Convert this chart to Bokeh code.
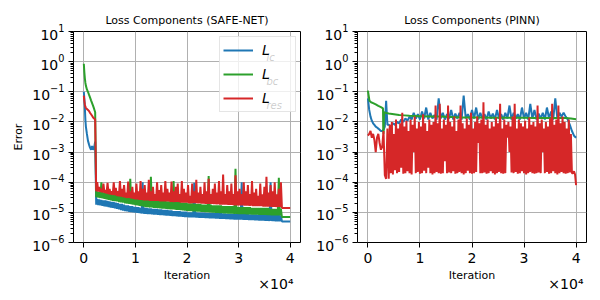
from bokeh.plotting import figure
from bokeh.layouts import row
from bokeh.models import FixedTicker, Legend, LegendItem, Label, Title
from bokeh.embed import file_html
from bokeh.resources import INLINE

# ---------------- data ----------------
titles = ["Loss Components (SAFE-NET)", "Loss Components (PINN)"]
xtick_vals = [0, 10000, 20000, 30000, 40000]
xtick_labels = ["0", "1", "2", "3", "4"]
ytick_vals = [1e-6, 1e-5, 1e-4, 1e-3, 1e-2, 1e-1, 1e0, 1e1]
legend_subs = ["ic", "bc", "res"]

# ---- SAFE-NET: warm-up phase, noisy phase (every 200 iterations), final flat segment
s_x_init = [0, 100, 200, 300, 400, 600, 800, 1000, 1200, 1400, 1600, 1800, 2000, 2200]
s_x_noisy = list(range(2400, 38201, 200))
s_x_tail = [38400, 40000]

s_ic_init = [0.1, 0.06, 0.03, 0.012, 0.007, 0.004, 0.0024, 0.0018, 0.0014, 0.0012, 0.0016, 0.0012, 0.0014, 0.0022]
s_bc_init = [0.85, 0.45, 0.28, 0.2, 0.16, 0.12, 0.1, 0.08, 0.065, 0.052, 0.042, 0.034, 0.027, 0.021]
s_res_init = [0.075, 0.05, 0.038, 0.032, 0.029, 0.027, 0.025, 0.023, 0.02, 0.018, 0.016, 0.014, 0.013, 0.012]

s_res_noisy = [
    5.0e-5, 1.0e-4, 4.9e-5, 7.0e-5, 4.8e-5, 6.0e-5, 4.6e-5, 9.0e-5, 4.4e-5, 5.5e-5,
    4.2e-5, 9.5e-5, 4.0e-5, 6.0e-5, 3.9e-5, 5.0e-5, 3.8e-5, 1.0e-4, 3.7e-5, 6.5e-5,
    3.5e-5, 5.0e-5, 3.4e-5, 1.1e-4, 3.3e-5, 6.0e-5, 3.2e-5, 8.0e-5, 3.1e-5, 4.5e-5,
    3.0e-5, 1.05e-4, 3.0e-5, 5.0e-5, 2.9e-5, 7.0e-5, 2.8e-5, 4.5e-5, 2.7e-5, 9.0e-5,
    2.7e-5, 5.0e-5, 2.6e-5, 1.1e-4, 2.6e-5, 6.0e-5, 2.5e-5, 8.0e-5, 2.5e-5, 4.5e-5,
    2.5e-5, 1.2e-4, 2.4e-5, 5.0e-5, 2.4e-5, 7.0e-5, 2.4e-5, 4.0e-5, 2.4e-5, 1.0e-4,
    2.4e-5, 5.5e-5, 2.3e-5, 8.0e-5, 2.3e-5, 4.5e-5, 2.3e-5, 1.1e-4, 2.3e-5, 6.0e-5,
    2.3e-5, 4.5e-5, 2.2e-5, 1.05e-4, 2.2e-5, 5.0e-5, 2.2e-5, 7.0e-5, 2.2e-5, 9.0e-5,
    2.2e-5, 4.0e-5, 2.1e-5, 1.1e-4, 2.1e-5, 6.0e-5, 2.1e-5, 4.5e-5, 2.1e-5, 8.0e-5,
    2.0e-5, 3.5e-5, 2.0e-5, 9.0e-5, 2.0e-5, 5.0e-5, 2.0e-5, 1.2e-4, 2.0e-5, 4.5e-5,
    2.0e-5, 7.0e-5, 1.95e-5, 4.0e-5, 1.95e-5, 1.0e-4, 1.9e-5, 5.0e-5, 1.9e-5, 1.3e-4,
    1.9e-5, 4.0e-5, 1.9e-5, 6.0e-5, 1.85e-5, 9.0e-5, 1.85e-5, 4.5e-5, 1.85e-5, 1.1e-4,
    1.8e-5, 5.0e-5, 1.8e-5, 1.8e-4, 1.8e-5, 4.0e-5, 1.8e-5, 8.0e-5, 1.75e-5, 5.0e-5,
    1.75e-5, 9.0e-5, 1.75e-5, 4.0e-5, 1.7e-5, 1.7e-4, 1.7e-5, 5.0e-5, 1.7e-5, 6.0e-5,
    1.7e-5, 4.0e-5, 1.7e-5, 1.0e-4, 1.65e-5, 5.0e-5, 1.65e-5, 8.0e-5, 1.65e-5, 4.0e-5,
    1.65e-5, 1.1e-4, 1.6e-5, 4.5e-5, 1.6e-5, 6.0e-5, 1.6e-5, 3.5e-5, 1.6e-5, 9.0e-5,
    1.6e-5, 4.0e-5, 1.55e-5, 7.0e-5, 1.55e-5, 1.5e-4, 1.55e-5, 4.5e-5, 1.55e-5, 8.0e-5,
    1.5e-5, 5.0e-5, 1.5e-5, 1.0e-4, 1.5e-5, 4.0e-5, 1.5e-5, 6.0e-5, 1.5e-5, 1.0e-4]
s_bc_noisy = [
    3.2e-5, 5.0e-5, 3.1e-5, 4.8e-5, 3.0e-5, 1.0e-4, 2.9e-5, 4.6e-5, 2.8e-5, 4.5e-5,
    2.7e-5, 4.4e-5, 2.6e-5, 4.2e-5, 2.5e-5, 4.0e-5, 2.4e-5, 3.9e-5, 2.35e-5, 3.8e-5,
    2.3e-5, 3.7e-5, 2.2e-5, 3.6e-5, 2.15e-5, 3.5e-5, 2.1e-5, 3.4e-5, 2.0e-5, 3.3e-5,
    1.95e-5, 3.2e-5, 1.9e-5, 1.3e-4, 1.85e-5, 3.1e-5, 1.8e-5, 3.0e-5, 1.75e-5, 2.9e-5,
    1.7e-5, 2.9e-5, 1.65e-5, 2.8e-5, 1.6e-5, 2.8e-5, 1.55e-5, 2.7e-5, 1.5e-5, 2.7e-5,
    1.5e-5, 2.6e-5, 1.45e-5, 1.5e-4, 1.45e-5, 2.6e-5, 1.4e-5, 2.5e-5, 1.4e-5, 2.5e-5,
    1.38e-5, 2.5e-5, 1.36e-5, 2.4e-5, 1.34e-5, 2.4e-5, 1.32e-5, 2.4e-5, 1.3e-5, 2.3e-5,
    1.28e-5, 2.3e-5, 1.26e-5, 2.3e-5, 1.25e-5, 1.1e-4, 1.24e-5, 2.2e-5, 1.22e-5, 2.2e-5,
    1.2e-5, 2.2e-5, 1.18e-5, 2.1e-5, 1.16e-5, 2.1e-5, 1.14e-5, 2.1e-5, 1.12e-5, 2.0e-5,
    1.1e-5, 2.0e-5, 1.09e-5, 2.0e-5, 1.08e-5, 1.9e-5, 1.07e-5, 1.9e-5, 1.06e-5, 1.9e-5,
    1.05e-5, 1.9e-5, 1.04e-5, 1.8e-5, 1.03e-5, 1.8e-5, 1.02e-5, 1.8e-5, 1.01e-5, 1.6e-4,
    1.0e-5, 1.8e-5, 9.9e-6, 1.7e-5, 9.8e-6, 1.7e-5, 9.7e-6, 1.7e-5, 9.6e-6, 1.7e-5,
    9.5e-6, 1.7e-5, 9.4e-6, 1.6e-5, 9.3e-6, 1.6e-5, 9.2e-6, 1.6e-5, 9.1e-6, 1.6e-5,
    9.0e-6, 1.6e-5, 9.0e-6, 1.6e-5, 8.9e-6, 2.8e-4, 8.9e-6, 1.5e-5, 8.8e-6, 1.5e-5,
    8.8e-6, 1.5e-5, 8.7e-6, 1.5e-5, 8.7e-6, 1.5e-5, 8.6e-6, 1.5e-5, 8.6e-6, 1.5e-5,
    8.5e-6, 1.4e-5, 8.5e-6, 1.4e-5, 8.4e-6, 1.4e-5, 8.4e-6, 1.4e-5, 8.3e-6, 1.4e-5,
    8.3e-6, 1.4e-5, 8.2e-6, 1.4e-5, 8.2e-6, 1.4e-5, 8.1e-6, 1.4e-5, 8.1e-6, 1.3e-5,
    8.0e-6, 1.3e-5, 8.0e-6, 1.3e-5, 8.0e-6, 1.3e-5, 7.9e-6, 1.4e-4, 7.9e-6, 1.3e-5]
s_ic_noisy = [
    1.8e-5, 2.8e-5, 1.75e-5, 2.7e-5, 1.7e-5, 2.6e-5, 1.65e-5, 2.5e-5, 1.6e-5, 2.5e-5,
    1.55e-5, 2.4e-5, 1.5e-5, 2.3e-5, 1.45e-5, 2.2e-5, 1.4e-5, 2.2e-5, 1.35e-5, 2.1e-5,
    1.3e-5, 2.0e-5, 1.25e-5, 1.9e-5, 1.2e-5, 1.9e-5, 1.15e-5, 1.8e-5, 1.1e-5, 1.7e-5,
    1.08e-5, 1.7e-5, 1.05e-5, 1.6e-5, 1.02e-5, 1.6e-5, 1.0e-5, 1.5e-5, 9.8e-6, 1.5e-5,
    9.6e-6, 1.5e-5, 9.4e-6, 1.4e-5, 9.2e-6, 1.0e-4, 9.0e-6, 1.4e-5, 8.9e-6, 1.4e-5,
    8.8e-6, 1.35e-5, 8.7e-6, 1.35e-5, 8.6e-6, 1.3e-5, 8.5e-6, 1.3e-5, 8.4e-6, 1.3e-5,
    8.3e-6, 1.25e-5, 8.2e-6, 1.25e-5, 8.1e-6, 1.2e-5, 8.0e-6, 1.2e-5, 7.9e-6, 1.2e-5,
    7.8e-6, 1.15e-5, 7.7e-6, 1.15e-5, 7.6e-6, 1.1e-5, 7.5e-6, 1.1e-5, 7.4e-6, 1.1e-5,
    7.3e-6, 1.1e-5, 7.2e-6, 1.05e-5, 7.1e-6, 1.05e-5, 7.0e-6, 1.05e-5, 6.95e-6, 1.0e-5,
    6.9e-6, 1.0e-5, 6.85e-6, 1.0e-5, 6.8e-6, 9.5e-5, 6.75e-6, 1.0e-5, 6.7e-6, 9.8e-6,
    6.65e-6, 9.8e-6, 6.6e-6, 9.7e-6, 6.55e-6, 9.7e-6, 6.5e-6, 9.6e-6, 6.45e-6, 9.6e-6,
    6.4e-6, 9.5e-6, 6.35e-6, 9.5e-6, 6.3e-6, 9.4e-6, 6.25e-6, 9.4e-6, 6.2e-6, 9.3e-6,
    6.15e-6, 9.3e-6, 6.1e-6, 9.2e-6, 6.05e-6, 9.2e-6, 6.0e-6, 9.1e-6, 5.95e-6, 9.1e-6,
    5.9e-6, 9.0e-6, 5.85e-6, 9.0e-6, 5.8e-6, 8.9e-6, 5.78e-6, 8.9e-6, 5.76e-6, 8.8e-6,
    5.74e-6, 1.0e-4, 5.7e-6, 8.8e-6, 5.66e-6, 8.7e-6, 5.62e-6, 8.7e-6, 5.58e-6, 8.6e-6,
    5.54e-6, 8.6e-6, 5.5e-6, 8.5e-6, 5.46e-6, 8.5e-6, 5.42e-6, 8.4e-6, 5.38e-6, 8.4e-6,
    5.34e-6, 8.3e-6, 5.3e-6, 8.3e-6, 5.26e-6, 8.2e-6, 5.22e-6, 8.2e-6, 5.18e-6, 1.0e-4,
    5.14e-6, 8.1e-6, 5.1e-6, 8.1e-6, 5.06e-6, 8.0e-6, 5.03e-6, 8.0e-6, 5.0e-6, 7.9e-6]
s_ic_tail = [5.0e-6, 5.0e-6]
s_bc_tail = [7.0e-6, 7.0e-6]
s_res_tail = [1.4e-5, 1.4e-5]

# ---- PINN
p_x_init = [0, 250, 500, 750, 1000, 1250, 1500, 1750, 2000, 2250, 2500, 2750, 3000, 3250, 3500, 3750]
p_res_x_noisy = list(range(4000, 40001, 200))
p_ic_x_noisy = list(range(4000, 40001, 400))

p_ic_init = [0.06, 0.025, 0.015, 0.011, 0.009, 0.008, 0.007, 0.0065, 0.006, 0.0055, 0.005, 0.005, 0.0055, 0.007, 0.05, 0.008]
p_res_init = [0.0035, 0.004, 0.005, 0.003, 0.004, 0.0025, 0.001, 0.003, 0.004, 0.002, 0.0012, 0.0015, 0.005, 0.00017, 0.00013, 0.006]
p_ic_noisy = [0.008, 0.007, 0.009, 0.008, 0.01, 0.009, 0.012, 0.01, 0.013, 0.011,
              0.015, 0.012, 0.02, 0.013, 0.018, 0.012, 0.022, 0.013, 0.03, 0.012,
              0.02, 0.013, 0.017, 0.012, 0.06, 0.013, 0.02, 0.012, 0.018, 0.013,
              0.025, 0.012, 0.019, 0.013, 0.02, 0.012, 0.075, 0.013, 0.018, 0.012,
              0.025, 0.013, 0.03, 0.012, 0.02, 0.013, 0.018, 0.012, 0.022, 0.013,
              0.019, 0.012, 0.025, 0.013, 0.018, 0.012, 0.02, 0.013, 0.035, 0.012,
              0.02, 0.013, 0.018, 0.012, 0.03, 0.013, 0.02, 0.012, 0.04, 0.013,
              0.025, 0.012, 0.019, 0.013, 0.02, 0.012, 0.03, 0.013, 0.022, 0.012,
              0.06, 0.013, 0.02, 0.015, 0.02, 0.015, 0.012, 0.008, 0.005, 0.0035, 0.003]
p_res_noisy = [
    1.3e-4, 0.008, 2e-4, 0.01, 1.8e-4, 0.004, 2.5e-4, 0.012, 2e-4, 0.006,
    2.2e-4, 0.009, 3e-4, 0.02, 1.9e-4, 0.007, 2e-4, 0.011, 2.3e-4, 0.005,
    2e-4, 0.012, 1.8e-4, 0.008, 1e-3, 0.015, 2e-4, 0.006, 2.2e-4, 0.01,
    1.9e-4, 0.007, 2e-4, 0.018, 2.4e-4, 0.009, 2e-4, 0.005, 3e-4, 0.012,
    2e-4, 0.008, 1.8e-4, 0.01, 2e-4, 0.035, 2.2e-4, 0.009, 2e-4, 0.04,
    1.9e-4, 0.006, 2e-4, 0.012, 5e-4, 0.008, 2e-4, 0.035, 2.1e-4, 0.01,
    2e-4, 0.007, 2.3e-4, 0.015, 1.9e-4, 0.005, 2e-4, 0.012, 2.2e-4, 0.035,
    2e-4, 0.009, 1.8e-4, 0.006, 2e-4, 0.013, 2.4e-4, 0.008, 2e-4, 0.02,
    1.9e-4, 0.006, 2e-4, 0.01, 2.2e-4, 0.015, 2e-3, 0.009, 2e-4, 0.012,
    2e-4, 0.045, 2.1e-4, 0.008, 1.9e-4, 0.012, 2e-4, 0.006, 2.3e-4, 0.01,
    2e-4, 0.007, 1.8e-4, 0.014, 2e-4, 0.009, 2.2e-4, 0.04, 2e-4, 0.006,
    1.9e-4, 0.012, 2e-4, 0.008, 3e-3, 0.01, 1e-3, 0.007, 2.1e-4, 0.015,
    2e-4, 0.04, 2.2e-4, 0.006, 1.9e-4, 0.012, 2e-4, 0.009, 2.3e-4, 0.007,
    2e-4, 0.011, 1.8e-4, 0.006, 2e-4, 0.014, 2.2e-4, 0.008, 2e-4, 0.01,
    1.9e-4, 0.007, 2e-4, 0.035, 2.1e-4, 0.009, 2e-4, 0.012, 1e-3, 0.006,
    2e-4, 0.01, 2.2e-4, 0.007, 1.9e-4, 0.013, 2e-4, 0.04, 2.3e-4, 0.008,
    2e-4, 0.012, 1.8e-4, 0.035, 2e-4, 0.009, 2.2e-4, 0.015, 2e-4, 0.01,
    1.9e-4, 0.006, 2e-4, 0.012, 2.1e-4, 0.004, 2e-4, 2e-4, 2.3e-4, 1.8e-4,
    8e-5]
p_bc_x = [0, 300, 600, 1000, 1500, 2000, 2500, 2900, 2950, 3000, 3100, 3500, 4000, 5000, 6000,
          7000, 8000, 10000, 12000, 14000, 16000, 18000, 20000, 22000, 24000, 26000, 28000,
          30000, 32000, 34000, 36000, 37000, 38000, 39000, 40000]
p_bc = [0.11, 0.05, 0.045, 0.042, 0.038, 0.034, 0.031, 0.028, 0.005, 0.004, 0.021, 0.02, 0.019,
        0.018, 0.017, 0.0165, 0.016, 0.0155, 0.015, 0.015, 0.0145, 0.014, 0.014, 0.014, 0.0138,
        0.0138, 0.0137, 0.0137, 0.0136, 0.0136, 0.0136, 0.0135, 0.0135, 0.013, 0.0122]

C_IC, C_BC, C_RES = "#1f77b4", "#2ca02c", "#d62728"
FONT = "DejaVu Sans"


def make_fig(title, width, bl, br, offset_x):
    p = figure(width=width, height=300, x_range=(-2000, 42000), y_range=(1e-6, 1e1),
               y_axis_type="log", output_backend="svg", toolbar_location=None,
               min_border_left=bl, min_border_right=br, min_border_top=31, min_border_bottom=58)
    p.title.text = title
    p.title.align = "center"
    p.title.text_font = FONT
    p.title.text_font_size = "11px"
    p.title.text_font_style = "normal"
    p.title.text_color = "black"
    p.title.standoff = 10
    p.outline_line_color = "black"
    p.outline_line_width = 1
    p.outline_line_alpha = 1
    for ax in (p.xaxis[0], p.yaxis[0]):
        ax.axis_line_color = None
        ax.major_tick_out = 5
        ax.major_tick_in = 0
        ax.minor_tick_out = 3
        ax.minor_tick_in = 0
        ax.major_tick_line_color = "black"
        ax.minor_tick_line_color = "black"
        ax.major_label_text_font = FONT
        ax.major_label_text_font_size = "14px"
        ax.major_label_text_color = "black"
        ax.axis_label_text_font = FONT
        ax.axis_label_text_font_size = "11px"
        ax.axis_label_text_font_style = "normal"
        ax.axis_label_text_color = "black"
    p.xaxis.ticker = FixedTicker(ticks=xtick_vals)
    p.xaxis.major_label_overrides = {v: l for v, l in zip(xtick_vals, xtick_labels)}
    p.xaxis.axis_label = "Iteration"
    p.xaxis.axis_label_standoff = 3
    p.xaxis.major_label_standoff = 5
    minor = [m * t for t in ytick_vals[:-1] for m in range(2, 10)]
    p.yaxis.ticker = FixedTicker(ticks=ytick_vals, minor_ticks=minor)
    p.yaxis.major_label_standoff = 4
    p.grid.grid_line_color = "#b0b0b0"
    p.grid.grid_line_width = 1
    p.xgrid.ticker = FixedTicker(ticks=xtick_vals)
    p.ygrid.ticker = FixedTicker(ticks=ytick_vals)
    # axis offset text "×10⁴" below the axis, right-aligned
    p.add_layout(Title(text="×10⁴", align="right", vertical_align="top", offset=offset_x,
                       standoff=-18, text_font=FONT, text_font_size="14px",
                       text_font_style="normal", text_color="black"), "below")
    return p


p1 = make_fig(titles[0], 304, 73, 4, 7)
p1.yaxis.axis_label = "Error"
p1.yaxis.axis_label_standoff = 4
sx = s_x_init + s_x_noisy + s_x_tail
r_ic = p1.line(sx, s_ic_init + s_ic_noisy + s_ic_tail, color=C_IC, line_width=2)
r_bc = p1.line(sx, s_bc_init + s_bc_noisy + s_bc_tail, color=C_BC, line_width=2)
r_res = p1.line(sx, s_res_init + s_res_noisy + s_res_tail, color=C_RES, line_width=2)

leg = Legend(items=[LegendItem(label="L", renderers=[r]) for r in (r_ic, r_bc, r_res)],
             location=(146, 130), orientation="vertical")
leg.label_text_font = FONT
leg.label_text_font_style = "italic"
leg.label_text_font_size = "14px"
leg.label_text_color = "black"
leg.glyph_width = 30
leg.glyph_height = 20
leg.label_height = 20
leg.label_width = 30
leg.label_standoff = 9
leg.padding = 3
leg.spacing = 4
leg.margin = 0
leg.border_line_color = "#cccccc"
leg.border_line_width = 1
leg.background_fill_alpha = 0.8
p1.add_layout(leg)
for i, sub in enumerate(legend_subs):
    p1.add_layout(Label(x=193, y=184.7 - 24 * i, x_units="screen", y_units="screen", text=sub,
                        text_font=FONT, text_font_style="italic", text_font_size="10px",
                        text_color="black", text_baseline="alphabetic"))

p2 = make_fig(titles[1], 296, 53, 14, 3)
p2.line(p_x_init + p_ic_x_noisy, p_ic_init + p_ic_noisy, color=C_IC, line_width=2)
p2.line(p_bc_x, p_bc, color=C_BC, line_width=2)
p2.line(p_x_init + p_res_x_noisy, p_res_init + p_res_noisy, color=C_RES, line_width=2)

layout = row(p1, p2)
open("out.html", "w").write(file_html(layout, INLINE))
